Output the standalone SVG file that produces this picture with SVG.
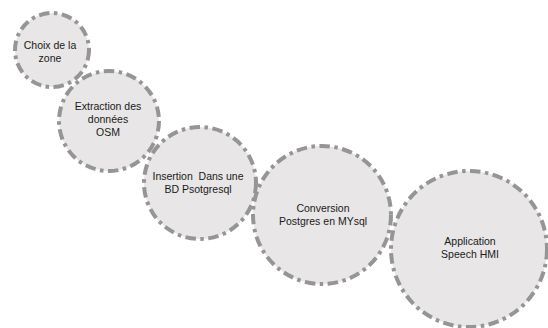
<svg xmlns="http://www.w3.org/2000/svg" width="548" height="328" viewBox="0 0 548 328">
<style>
.c{fill:#e8e6e6;stroke:#959595;stroke-width:4;stroke-dasharray:10.5 4.5 3.5 4.5}
.t{font-family:"Liberation Sans",Arial,sans-serif;font-size:10.5px;fill:#1a1a1a;text-anchor:middle;white-space:pre}
</style>
<rect width="548" height="328" fill="#ffffff"/>
<g id="connectors"></g>
<g id="n1"><circle class="c" cx="52" cy="50" r="37"/><text class="t" x="50" y="48.5">Choix de la</text><text class="t" x="50" y="61.5">zone</text></g>
<g id="n2"><circle class="c" cx="109" cy="121" r="50"/><text class="t" x="108" y="109.5">Extraction des</text><text class="t" x="108" y="122.5">données</text><text class="t" x="108" y="135.5">OSM</text></g>
<g id="n3"><circle class="c" cx="200" cy="183" r="56"/><text class="t" x="198" y="180">Insertion  Dans une</text><text class="t" x="198" y="193">BD Psotgresql</text></g>
<g id="n4"><circle class="c" cx="322" cy="215" r="69"/><text class="t" x="323" y="211.5">Conversion</text><text class="t" x="323" y="224.5">Postgres en MYsql</text></g>
<g id="n5"><circle class="c" cx="469" cy="249" r="78"/><text class="t" x="470" y="245">Application</text><text class="t" x="470" y="258">Speech HMI</text></g>
</svg>
